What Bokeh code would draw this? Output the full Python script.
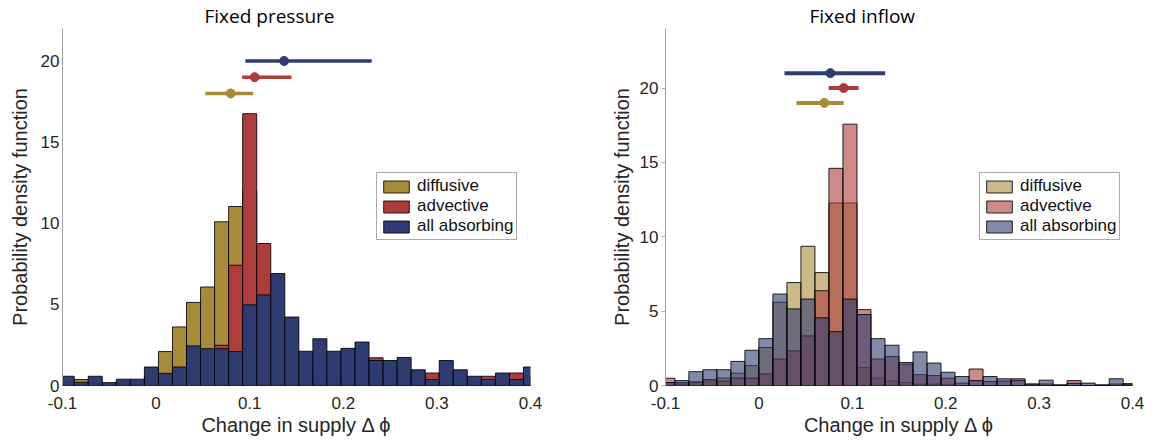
from bokeh.plotting import figure
from bokeh.layouts import row
from bokeh.models import Legend, LegendItem, FixedTicker, Range1d, ColumnDataSource
from bokeh.embed import file_html
from bokeh.resources import INLINE

# ---------------- data ----------------
series_names = ["diffusive", "advective", "all absorbing"]
bin_width = 0.015

# Fixed pressure panel (bins start at -0.1025)
fp_bin_start = -0.1025
fp_diffusive = [0.3, 0.37, 0.2, 0.1, 0.2, 0.2, 0.6, 2.09, 3.61, 5.12, 6.07, 10.09, 11.03, 12.0,
                5.0, 2.0, 1.0, 0.5, 0.3, 0.2, 0.1, 0.1, 0.1, 0.0, 0.0, 0.0, 0.0, 0.0, 0.0, 0.0,
                0.0, 0.0, 0.0, 0.0]
fp_advective = [0.2, 0.1, 0.1, 0.1, 0.2, 0.2, 0.3, 0.3, 0.4, 0.8, 1.2, 2.48, 7.41, 16.75,
                8.75, 4.0, 1.5, 1.0, 0.8, 0.6, 0.8, 1.0, 1.71, 0.8, 1.0, 0.5, 0.77, 0.8, 0.4,
                0.3, 0.57, 0.4, 0.77, 0.5]
fp_absorbing = [0.57, 0.2, 0.57, 0.18, 0.39, 0.39, 1.14, 0.75, 1.14, 2.44, 2.27, 2.27, 2.09,
                4.97, 5.58, 6.9, 4.22, 2.11, 2.88, 2.11, 2.29, 2.68, 1.54, 1.54, 1.73, 0.97,
                0.37, 1.54, 0.97, 0.57, 0.37, 0.77, 0.37, 1.14]
fp_mean = [0.0797, 0.1053, 0.1368]
fp_low = [0.0526, 0.0919, 0.0954]
fp_high = [0.1036, 0.1446, 0.2303]
fp_level = [18, 19, 20]

# Fixed inflow panel (bins start at -0.105)
fi_bin_start = -0.105
fi_diffusive = [0.2, 0.1, 0.2, 0.3, 0.5, 0.83, 1.33, 2.55, 5.6, 6.92, 9.36, 7.59, 12.27, 12.27,
                1.2, 0.5, 0.3, 0.2, 0.1, 0.1, 0.05, 0.0, 0.0, 0.0, 0.0, 0.0, 0.0, 0.0, 0.0,
                0.0, 0.0, 0.0, 0.0, 0.0]
fi_advective = [0.49, 0.2, 0.25, 0.4, 0.3, 0.5, 0.5, 0.78, 1.78, 2.33, 3.33, 6.37, 14.6, 17.57,
                5.1, 1.78, 1.95, 1.44, 0.73, 0.67, 0.49, 0.16, 1.11, 0.27, 0.3, 0.45, 0.05,
                0.1, 0.0, 0.33, 0.0, 0.0, 0.1, 0.13]
fi_absorbing = [0.2, 0.33, 0.93, 1.06, 1.06, 1.62, 2.37, 3.15, 6.15, 5.15, 5.81, 4.55, 3.62,
                5.81, 4.77, 3.15, 2.71, 1.55, 2.26, 1.51, 0.89, 0.6, 0.33, 0.6, 0.45, 0.35,
                0.11, 0.36, 0.05, 0.15, 0.16, 0.05, 0.45, 0.05]
fi_mean = [0.0701, 0.0907, 0.0765]
fi_low = [0.0402, 0.0747, 0.0274]
fi_high = [0.0907, 0.1067, 0.1352]
fi_level = [19, 20, 21]

xtick_values = [-0.1, 0.0, 0.1, 0.2, 0.3, 0.4]
xtick_labels = ["-0.1", "0", "0.1", "0.2", "0.3", "0.4"]
ytick_values = [0, 5, 10, 15, 20]
ytick_labels = ["0", "5", "10", "15", "20"]

# ---------------- style ----------------
colors = ["#A88B38", "#AE3C3B", "#2F3C71"]
TICK_FONT = "Liberation Sans"
TEXT_COLOR = "#262626"


def make_panel(title, title_offset, bin_start, series, mean, low, high, level,
               ymax, alpha, width, height, borders, tick_out, ylabel_standoff,
               legend_loc, err_width, dot_size):
    bl, br, bt, bb = borders
    p = figure(width=width, height=height, output_backend="svg", toolbar_location=None,
               x_range=Range1d(-0.1, 0.4), y_range=Range1d(0, ymax),
               min_border_left=bl, min_border_right=br, min_border_top=bt, min_border_bottom=bb)
    p.outline_line_color = None
    p.xgrid.visible = False
    p.ygrid.visible = False
    p.background_fill_color = "white"

    p.title.text = title
    p.title.align = "left"
    p.title.offset = title_offset
    p.title.standoff = 0
    p.title.text_font = "Open Sans"
    p.title.text_font_size = "19px"
    p.title.text_font_style = "normal"
    p.title.text_color = "black"

    renderers = []
    for vals, c in zip(series, colors):
        lefts = [bin_start + i * bin_width for i in range(len(vals))]
        rights = [l + bin_width for l in lefts]
        src = ColumnDataSource(dict(left=lefts, right=rights, top=vals, bottom=[0] * len(vals)))
        r = p.quad(left="left", right="right", top="top", bottom="bottom", source=src,
                   fill_color=c, fill_alpha=alpha, line_color="black", line_width=1,
                   line_alpha=0.85)
        renderers.append(r)

    esrc = ColumnDataSource(dict(x0=low, x1=high, y=level, m=mean, c=colors))
    p.segment(x0="x0", y0="y", x1="x1", y1="y", line_color="c", line_width=err_width, source=esrc)
    p.scatter(x="m", y="y", size=dot_size, fill_color="c", line_color="c", source=esrc)

    # axes
    xa = p.xaxis[0]
    xa.ticker = FixedTicker(ticks=xtick_values)
    xa.major_label_overrides = {v: s for v, s in zip(xtick_values, xtick_labels)}
    xa.axis_line_color = None
    xa.major_tick_line_color = None
    xa.minor_tick_line_color = None
    xa.major_label_standoff = 5
    xa.major_label_text_font = TICK_FONT
    xa.major_label_text_font_size = "17px"
    xa.major_label_text_color = TEXT_COLOR
    xa.axis_label = "Change in supply Δ ϕ"
    xa.axis_label_text_font = TICK_FONT
    xa.axis_label_text_font_size = "20px"
    xa.axis_label_text_font_style = "normal"
    xa.axis_label_text_color = TEXT_COLOR
    xa.axis_label_standoff = 2

    ya = p.yaxis[0]
    ya.ticker = FixedTicker(ticks=ytick_values)
    ya.major_label_overrides = {v: s for v, s in zip(ytick_values, ytick_labels)}
    ya.axis_line_color = "#a0a0a0"
    ya.axis_line_width = 1
    ya.major_tick_line_color = "#b0b0b0" if tick_out else None
    ya.major_tick_out = tick_out
    ya.major_tick_in = 0
    ya.minor_tick_line_color = None
    ya.major_label_standoff = 3
    ya.major_label_text_font = TICK_FONT
    ya.major_label_text_font_size = "17px"
    ya.major_label_text_color = TEXT_COLOR
    ya.axis_label = "Probability density function"
    ya.axis_label_text_font = TICK_FONT
    ya.axis_label_text_font_size = "20px"
    ya.axis_label_text_font_style = "normal"
    ya.axis_label_text_color = TEXT_COLOR
    ya.axis_label_standoff = ylabel_standoff

    legend = Legend(items=[LegendItem(label=n, renderers=[r]) for n, r in zip(series_names, renderers)],
                    location=legend_loc)
    legend.label_text_font = TICK_FONT
    legend.label_text_font_size = "17px"
    legend.label_text_color = "#111111"
    legend.border_line_color = "#555555"
    legend.border_line_width = 1
    legend.background_fill_color = "white"
    legend.background_fill_alpha = 1.0
    legend.padding = 3
    legend.spacing = 0
    legend.margin = 0
    legend.glyph_width = 32
    legend.glyph_height = 15
    legend.label_height = 16
    legend.label_standoff = 5
    p.add_layout(legend)
    return p


p1 = make_panel("Fixed pressure", 142, fp_bin_start, [fp_diffusive, fp_advective, fp_absorbing],
                fp_mean, fp_low, fp_high, fp_level, 22.0, 1.0, 575, 444,
                (62, 45, 24, 59), 0, 7, (314, 145), 3.5, 9)
p2 = make_panel("Fixed inflow", 144, fi_bin_start, [fi_diffusive, fi_advective, fi_absorbing],
                fi_mean, fi_low, fi_high, fi_level, 24.0, 0.6, 579, 444,
                (90, 22, 25, 57), 4, 4, (314, 145), 4, 9)

layout = row(p1, p2)
open("out.html", "w").write(file_html(layout, INLINE))
